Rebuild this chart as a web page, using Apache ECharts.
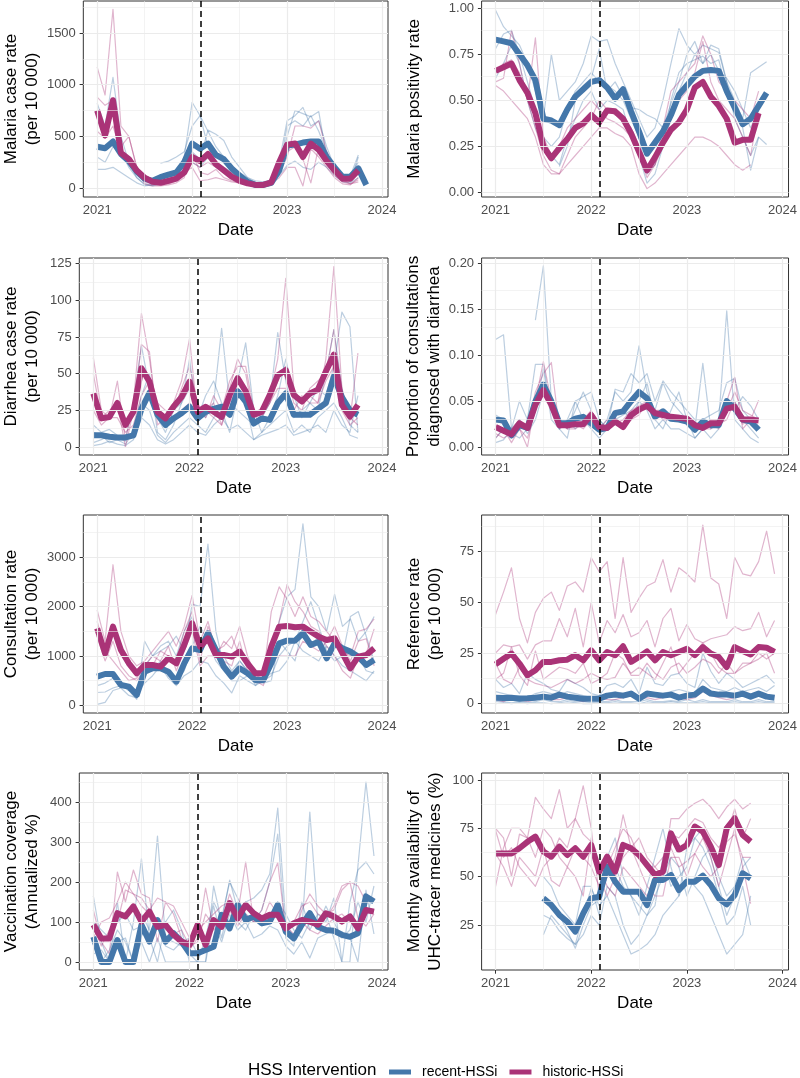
<!DOCTYPE html>
<html><head><meta charset="utf-8">
<script src="https://cdn.jsdelivr.net/npm/echarts@6.0.0/dist/echarts.min.js"></script>
<style>html,body{margin:0;padding:0;background:#fff}#c{width:800px;height:1078px}</style>
</head><body><div id="c"></div>
<script>
const _ = null;
const months = ['2021-01','2021-02','2021-03','2021-04','2021-05','2021-06','2021-07','2021-08','2021-09','2021-10','2021-11','2021-12',
'2022-01','2022-02','2022-03','2022-04','2022-05','2022-06','2022-07','2022-08','2022-09','2022-10','2022-11','2022-12',
'2023-01','2023-02','2023-03','2023-04','2023-05','2023-06','2023-07','2023-08','2023-09','2023-10','2023-11','2023-12'];
const xTickLabels = [2021, 2022, 2023, 2024];
const xMinorTicks = [2021.5, 2022.5, 2023.5];
const interventionX = 2022.09;
const legendTitle = 'HSS Intervention';
const groupNames = ['recent-HSSi', 'historic-HSSi'];

// 1. Malaria case rate
const malariaRecent = [400,385,450,330,260,160,90,70,105,130,150,250,430,380,430,320,280,190,120,60,30,30,50,170,410,420,440,450,450,300,200,110,110,190,30];
const malariaHistoric = [750,510,850,340,280,170,100,60,50,70,90,150,300,260,330,230,170,110,70,45,30,30,55,250,420,430,300,430,370,260,170,90,90,170];
const malariaRecentFac = [
 [820,600,1070,500,250,100,30,20,40,80,150,300,830,700,400,300,250,150,80,40,20,20,40,250,650,700,780,600,650,400,200,100,60,300,_],
 [180,180,200,150,100,50,20,30,60,100,150,200,350,280,560,520,460,300,200,100,50,40,80,200,500,750,720,690,740,300,150,80,120,320,_],
 [300,250,400,350,200,100,40,30,40,60,100,150,250,200,300,250,200,150,100,60,40,30,60,120,220,260,200,180,250,200,120,60,50,100,_],
 [_,_,_,_,_,_,_,_,240,260,300,350,600,700,550,400,300,200,150,100,70,60,80,150,600,650,600,700,550,350,200,110,130,250,_]];
const malariaHistoricFac = [
 [1170,900,1730,600,500,200,80,60,40,40,70,120,250,200,250,200,150,100,80,60,40,40,60,150,300,600,600,580,650,350,200,80,40,80],
 [880,800,850,400,500,200,40,20,20,30,50,100,350,150,130,180,100,70,50,30,20,20,40,200,350,400,280,50,400,250,120,60,40,60],
 [550,480,600,350,300,150,60,40,60,80,100,150,200,70,80,100,80,60,50,40,30,30,40,100,200,200,20,380,300,200,100,40,30,100]];

// 2. Malaria positivity rate
const positivityRecent = [0.83,0.82,0.81,0.75,0.69,0.61,0.40,0.39,0.365,0.45,0.52,0.56,0.60,0.61,0.57,0.51,0.56,0.44,0.33,0.21,0.27,0.33,0.42,0.53,0.58,0.63,0.66,0.665,0.66,0.55,0.46,0.37,0.40,0.47,0.54];
const positivityHistoric = [0.66,0.68,0.70,0.61,0.54,0.43,0.25,0.185,0.24,0.29,0.35,0.375,0.42,0.38,0.445,0.44,0.40,0.32,0.22,0.12,0.19,0.27,0.34,0.38,0.45,0.57,0.60,0.52,0.47,0.40,0.27,0.285,0.285,0.43];
const positivityRecentFac = [
 [0.99,0.90,0.85,0.80,0.70,0.55,0.40,0.75,0.50,0.55,0.60,0.70,0.85,0.82,0.83,0.70,0.60,0.50,0.40,0.30,0.35,0.50,0.70,0.89,0.80,0.75,0.70,0.80,0.78,0.60,0.50,0.40,0.65,0.68,0.71],
 [0.78,0.86,0.88,0.75,0.60,0.45,0.30,0.25,0.30,0.45,0.55,0.60,0.65,0.60,0.58,0.55,0.50,0.40,0.30,0.10,0.15,0.30,0.45,0.55,0.65,0.75,0.80,0.78,0.76,0.60,0.40,0.30,0.20,0.30,_],
 [0.62,0.70,0.80,0.70,0.50,0.35,0.25,0.20,0.15,0.30,0.40,0.50,0.55,0.45,0.50,0.48,0.45,0.30,0.20,0.05,0.10,0.25,0.50,0.65,0.70,0.72,0.74,0.70,0.72,0.55,0.45,0.35,0.12,0.30,0.26],
 [_,_,_,_,_,_,_,_,0.14,0.25,0.50,0.58,0.62,0.78,0.55,0.60,0.52,0.46,0.45,0.42,0.40,0.35,0.48,0.60,0.75,0.82,0.70,0.75,0.66,0.62,0.55,0.45,0.35,0.45,_]];
const positivityHistoricFac = [
 [0.60,0.62,0.88,0.70,0.50,0.84,0.30,0.20,0.25,0.35,0.40,0.45,0.50,0.45,0.40,0.38,0.35,0.30,0.20,0.08,0.15,0.35,0.55,0.60,0.65,0.70,0.85,0.75,0.60,0.55,0.50,0.45,0.40,0.55],
 [0.58,0.55,0.50,0.45,0.40,0.30,0.15,0.10,0.10,0.15,0.20,0.25,0.30,0.35,0.35,0.32,0.30,0.25,0.10,0.02,0.05,0.10,0.15,0.20,0.25,0.30,0.30,0.28,0.25,0.20,0.15,0.12,0.15,_],
 [0.65,0.70,0.72,0.65,0.50,0.35,0.20,0.12,0.10,0.20,0.30,0.35,0.40,0.50,0.45,0.42,0.40,0.35,0.25,0.10,0.15,0.25,0.40,0.50,0.55,0.65,0.82,0.60,0.50,0.45,0.40,0.30,0.20,0.45]];

// 3. Diarrhea case rate
const diarrheaRecent = [8,8,7,6.5,6.5,8,26,37,22,15,19.5,23,27.5,19.5,24,26,27.5,22,38,31,16,19.5,18.5,30,36.5,22,22,22,26,30,48,34,25,22];
const diarrheaHistoric = [36.5,19.5,20.5,30,15,24,53.7,44.6,24,19.5,27.5,34,44.6,24,27.5,24,20.5,35.5,47,38,22,24,35.5,49,52.5,35.5,31,36.5,39,51.5,63,28.7,20.7,28.7];
const diarrheaRecentFac = [
 [15,10,12,8,5,30,69,40,20,10,25,30,40,25,20,30,81,30,25,20,15,20,30,78,45,20,25,30,40,35,55,92,82,10],
 [3,5,8,6,4,10,35,50,10,5,15,30,60,20,35,45,30,25,45,71,25,10,20,35,60,35,20,30,25,50,80,40,15,10],
 [10,8,3,5,2,10,30,25,8,3,10,15,20,15,10,20,25,10,35,30,5,10,15,20,25,10,15,10,20,25,30,20,8,6],
 [1,2,4,2,1,5,20,15,5,2,5,10,15,10,8,15,20,12,15,10,5,8,10,12,15,8,10,12,15,10,25,15,10,35]];
const diarrheaHistoricFac = [
 [61,25,20,45,5,30,91,60,20,18,30,45,74,20,25,30,15,40,60,50,20,25,35,60,115,40,30,35,30,60,123,40,20,15],
 [50,20,25,30,0,25,70,65,15,20,25,40,55,30,20,35,25,45,55,55,25,20,30,45,55,30,25,40,45,50,80,35,18,64],
 [25,15,20,20,10,15,35,45,30,25,20,25,30,20,25,20,15,30,40,35,20,22,30,40,40,25,35,30,30,45,55,25,15,20]];

// 4. Proportion of consultations diagnosed with diarrhea
const propRecent = [0.030,0.029,0.013,0.024,0.021,0.050,0.068,0.050,0.026,0.026,0.031,0.033,0.026,0.019,0.021,0.037,0.039,0.050,0.060,0.053,0.033,0.039,0.031,0.030,0.028,0.019,0.028,0.024,0.024,0.050,0.042,0.030,0.028,0.019];
const propHistoric = [0.022,0.018,0.014,0.026,0.021,0.046,0.062,0.046,0.024,0.024,0.025,0.025,0.035,0.022,0.021,0.028,0.022,0.035,0.041,0.045,0.037,0.035,0.033,0.032,0.031,0.024,0.021,0.026,0.026,0.042,0.044,0.030,0.030,0.029];
const propRecentFac = [
 [0.117,0.122,0.02,0.03,_,0.138,0.197,0.05,0.03,0.02,0.04,0.06,0.04,0.02,0.03,0.06,0.05,0.06,0.11,0.06,0.04,0.07,0.05,0.04,0.03,0.02,0.091,0.02,0.03,0.148,0.03,0.02,0.01,0.005],
 [0.005,0.008,0.02,0.05,0.03,0.09,0.09,0.04,0.02,0.01,0.05,0.055,0.06,0.03,0.02,0.063,0.06,0.08,0.07,0.08,0.05,0.072,0.06,0.05,0.04,0.03,0.03,0.035,0.04,0.07,0.075,0.04,0.03,0.02],
 [0.035,0.03,0.015,0.01,0.02,0.04,0.085,0.03,0.02,0.03,0.02,0.03,0.02,0.01,0.02,0.04,0.04,0.03,0.05,0.07,0.03,0.02,0.04,0.06,0.03,0.01,0.02,0.01,0.02,0.04,0.05,0.03,0.02,0.01],
 [0.01,0.02,0.01,0.03,0.015,0.03,0.06,0.045,0.02,0.03,0.05,0.03,0.025,0.03,0.02,0.03,0.035,0.04,0.05,0.04,0.02,0.03,0.02,0.02,0.015,0.01,0.02,0.025,0.03,0.05,0.04,0.055,0.045,0.03]];
const propHistoricFac = [
 [0.01,0.02,0.005,0.02,0.0,0.05,0.093,0.05,0.03,0.02,0.03,0.03,0.04,0.02,0.025,0.03,0.02,0.03,0.035,0.05,0.04,0.03,0.03,0.03,0.03,0.02,0.02,0.03,0.03,0.05,0.076,0.02,0.03,0.051],
 [0.03,0.025,0.02,0.03,0.02,0.06,0.08,0.092,0.02,0.025,0.025,0.02,0.03,0.025,0.02,0.025,0.03,0.04,0.045,0.05,0.04,0.04,0.035,0.035,0.03,0.02,0.02,0.025,0.02,0.04,0.06,0.04,0.035,0.03],
 [0.015,0.01,0.015,0.02,0.01,0.04,0.07,0.04,0.025,0.02,0.02,0.025,0.035,0.02,0.03,0.025,0.025,0.03,0.04,0.045,0.03,0.035,0.03,0.03,0.025,0.02,0.02,0.02,0.025,0.03,0.05,0.025,0.03,0.03]];

// 5. Consultation rate
const consultRecent = [581,635,635,412,378,210,682,750,750,682,480,851,1155,1122,1460,1122,784,581,750,649,514,514,851,1257,1311,1311,1460,1223,1290,953,1257,1155,1088,986,818,919];
const consultHistoric = [1561,1054,1595,1122,851,649,818,818,784,953,851,1223,1662,1189,1358,1020,1020,986,1088,851,649,649,1189,1595,1608,1581,1595,1493,1392,1324,1358,1054,750,986,1020,1155];
const consultRecentFac = [
 [20,60,300,350,200,150,1300,1000,1100,1200,1400,1100,2050,2000,3270,1500,800,600,900,700,400,600,900,1700,2200,2350,3680,2200,2000,1500,2250,1600,1750,1300,1500,1800],
 [260,270,350,400,300,120,650,700,900,600,500,700,1200,1600,1300,900,700,500,500,600,450,450,500,1300,1100,900,1600,1200,1400,1000,1300,1100,1050,1000,700,650],
 [400,450,550,450,300,250,450,600,800,550,400,600,700,900,850,600,450,250,600,500,400,500,600,1000,1200,1300,1100,1000,900,1200,1000,800,700,600,500,700],
 [_,_,_,_,_,_,800,1000,1200,1300,1000,1500,1800,1200,1400,1200,1000,700,900,700,600,550,650,700,900,1300,1700,2100,1600,1100,900,1000,1800,1900,1400,900]];
const consultHistoricFac = [
 [1930,1300,2850,1500,1000,800,900,1100,1300,1500,1200,1600,2230,1300,1700,1100,1200,1400,1000,900,700,600,1900,2400,2150,1800,2200,1800,1700,1500,1300,1100,1000,1500,1550,1750],
 [1400,900,1300,800,600,500,700,800,1100,1000,900,1500,1900,900,1600,1200,900,800,1300,700,500,400,1000,1700,2450,2100,1900,1600,1500,1200,1000,700,550,1000,1050,1550],
 [1700,1100,900,700,500,550,800,1000,900,1200,700,1100,1500,800,1000,1000,1300,1150,1600,1000,600,550,900,1000,1000,1000,1300,1200,1100,1300,1600,1200,900,1300,1350,800]];

// 6. Reference rate
const referenceRecent = [3,2.8,3,2.5,2.7,3,3.5,3,4.5,3.5,3,2.5,2.5,2.5,4,4.5,4,5,2.5,5,4.5,4,4.5,3,4,4.5,7.5,5,4.5,4.5,4,5,3.5,5,3.5,3];
const referenceHistoric = [19.4,22.2,24.7,19.8,14,16.5,20.6,20.6,21.4,21.7,23.9,21.4,26.3,21.4,25.5,23.9,28.3,20.6,23,25.8,21.4,25.5,23.9,25.5,27.1,23.9,27.9,24.7,23,18.1,27.9,26,24.3,27.9,27.6,25.5];
const referenceRecentFac = [
 [12,8,10,5,15,12,10,7,6,12,10,8,5,4,9,10,8,12,5,18,10,9,14,15,10,8,25,16,10,15,12,8,10,12,14,10],
 [6,5,4,4,3,5,6,5,4,6,5,4,3,3,5,6,5,4,3,6,5,5,6,7,6,5,12,8,7,6,8,6,7,8,6,9],
 [1,1,0.5,1,0.5,1,2,1,1,2,1,1,0.5,1,1,2,1,1,1,2,1,1,1.5,1,2,1,2,1,1,1,2,1,1,2,1,1],
 [0,0.5,0,0.5,0,0.5,0.5,0,0.5,1,0.5,0,0,0.5,0.5,1,0.5,0.5,0,1,0.5,0.5,1,0.5,0.5,0.5,1,0.5,0.5,0.5,1,0.5,0.5,1,0.5,0.5]];
const referenceHistoricFac = [
 [44,55,67,42,30,45,52,55,46,58,60,55,72,65,70,42,72,45,52,58,60,71,55,67,64,60,88,62,59,42,72,64,63,70,85,64],
 [25,29,28,29,22,29,31,31,42,33,47,28,50,30,41,35,44,33,35,41,28,42,47,31,39,32,30,32,33,34,38,36,37,45,33,41],
 [20,12,10,18,12,10,9,8,10,12,10,12,15,13,12,13,20,15,18,15,12,20,28,15,20,25,30,25,18,15,15,20,20,22,25,15],
 [12,15,28,14,9,26,12,15,18,17,15,20,10,12,15,25,22,14,14,20,15,12,18,20,15,18,22,20,15,20,15,18,20,25,22,25],
 [2,1,3,2,1,2,3,2,2,3,2,1,2,3,2,2,3,4,2,3,2,3,4,3,2,3,6,4,3,2,3,4,3,4,3,4]];

// 7. Vaccination coverage
const vaccRecent = [63,0,0,55,0,0,93,51,105,51,72,51,22,22,30,38,118,84,143,105,114,97,101,143,76,59,93,122,88,80,78,68,63,72,164,151];
const vaccHistoric = [93,59,59,122,114,139,101,126,88,93,68,51,43,93,43,105,88,147,109,143,122,109,118,118,84,97,105,101,93,122,114,101,114,84,130,126];
const vaccRecentFac = [
 [165,50,0,150,0,100,258,60,0,100,130,80,0,0,0,190,100,205,130,150,160,180,220,385,100,60,80,375,100,120,60,0,0,240,450,265],
 [40,0,30,80,50,0,120,80,315,60,50,40,20,0,60,150,110,200,160,120,100,130,200,320,60,40,150,80,120,100,160,0,150,230,250,220],
 [20,30,0,50,60,0,50,0,60,0,0,0,0,0,0,100,50,120,80,100,60,70,90,80,40,20,50,10,60,70,80,70,60,0,180,70],
 [100,80,60,100,120,80,90,70,100,40,30,50,60,20,30,140,60,150,100,80,120,90,110,150,120,80,60,100,90,140,100,60,80,150,100,190]];
const vaccHistoricFac = [
 [130,50,20,225,150,230,170,160,50,150,120,60,30,60,185,80,100,170,120,250,100,130,200,248,80,60,130,170,140,120,130,180,200,110,90,120],
 [60,100,110,150,200,170,160,130,160,150,140,100,60,80,100,120,140,150,100,140,120,100,150,120,80,100,140,150,120,110,140,190,200,190,150,160],
 [90,40,80,100,180,170,140,120,100,60,70,80,40,50,120,90,110,130,90,120,100,110,100,130,90,70,100,80,70,90,110,120,100,100,120,130]];

// 8. Monthly availability of UHC-tracer medicines
const uhcRecent = [_,_,_,_,_,_,38.8,35.3,30.2,26.7,21.6,31,38.8,39.7,55.2,47.4,42.2,42.2,42.2,35.3,48.3,48.3,50.9,43.1,47.4,47.4,50.5,45.7,38.8,35.7,40.5,51.7,49.1];
const uhcHistoric = [62,62,62,64.7,68,70.7,63,60.3,65.5,61.2,64.7,60.3,66.4,52.6,60.3,52.6,66.4,64.7,61.2,56,50.9,52.6,72.4,63.8,66.4,75.9,73.3,65.5,56,75,80.2,71.6,68.1];
const uhcRecentFac = [
 [_,_,_,_,_,_,50,45,35,30,25,45,45,30,60,70,50,40,30,45,60,75,55,40,65,70,75,60,45,30,40,55,60],
 [_,_,_,_,_,_,30,28,22,18,15,20,30,25,45,40,25,15,20,30,35,60,45,50,55,70,65,55,40,25,30,45,25],
 [_,_,_,_,_,_,20,30,25,20,15,30,44,35,40,30,20,10,12,15,20,30,35,40,50,45,40,30,20,10,15,20,40],
 [_,_,_,_,_,_,40,35,30,22,13,25,35,38,50,55,45,40,35,30,40,50,60,55,40,50,60,65,50,40,45,60,50]];
const uhcHistoricFac = [
 [75,70,50,72,70,91,85,80,95,75,80,97,75,40,50,60,82,65,70,60,55,50,80,80,85,88,90,86,80,86,90,85,88],
 [45,65,75,75,70,60,75,70,60,55,65,60,55,45,55,65,75,70,60,55,55,60,72,70,75,80,78,70,65,72,85,70,80],
 [62,55,45,60,55,50,65,48,45,55,50,40,70,50,40,50,60,65,55,45,40,40,60,60,50,62,70,60,45,60,75,55,36],
 [74,60,65,55,50,45,55,60,70,65,80,72,68,55,45,40,55,50,45,40,48,55,65,55,58,62,55,50,55,68,72,60,60]];

const yTitles = ['Malaria case rate\n(per 10 000)', 'Malaria positivity rate', 'Diarrhea case rate\n(per 10 000)',
  'Proportion of consultations\ndiagnosed with diarrhea', 'Consultation rate\n(per 10 000)', 'Reference rate\n(per 10 000)',
  'Vaccination coverage\n(Annualized %)', 'Monthly availability of\nUHC-tracer medicines (%)'];
const yTickLabels = [[0,500,1000,1500],[0,0.25,0.5,0.75,1],[0,25,50,75,100,125],[0,0.05,0.1,0.15,0.2],
  [0,1000,2000,3000],[0,25,50,75],[0,100,200,300,400],[25,50,75,100]];
const yMinorTicks = [[250,750,1250,1750],[0.125,0.375,0.625,0.875],[12.5,37.5,62.5,87.5,112.5],[0.025,0.075,0.125,0.175],
  [500,1500,2500,3500],[12.5,37.5,62.5,87.5],[50,150,250,350,450],[12.5,37.5,62.5,87.5]];
const yDecimals = [0,2,0,2,0,0,0,0];
const yLimits = [[-87,1810],[-0.0255,1.0397],[-5.45,128.9],[-0.0084,0.2054],[-156,3858],[-4.56,92.99],[-20,472.5],[1.73,103.6]];
const recentData = [malariaRecent, positivityRecent, diarrheaRecent, propRecent, consultRecent, referenceRecent, vaccRecent, uhcRecent];
const historicData = [malariaHistoric, positivityHistoric, diarrheaHistoric, propHistoric, consultHistoric, referenceHistoric, vaccHistoric, uhcHistoric];
const recentFac = [malariaRecentFac, positivityRecentFac, diarrheaRecentFac, propRecentFac, consultRecentFac, referenceRecentFac, vaccRecentFac, uhcRecentFac];
const historicFac = [malariaHistoricFac, positivityHistoricFac, diarrheaHistoricFac, propHistoricFac, consultHistoricFac, referenceHistoricFac, vaccHistoricFac, uhcHistoricFac];

// ---- layout / style ----
const FONT = "'Liberation Sans', Arial, Helvetica, sans-serif";
const BLUE = '#4477AA', MAG = '#AA3377';
const BLUE_T = 'rgba(68,119,170,0.36)', MAG_T = 'rgba(170,51,119,0.36)';
const colLeft = [79.3, 481.6], colWidth = [308.7, 309.1];
const rowTop = [1, 258, 515, 773], rowHeight = [196, 197, 198, 197];
const xMin = 2021 - 0.1458, xMax = 2023 + 11/12 + 0.1458;

const xs = months.map(s => { const [y, m] = s.split('-').map(Number); return y + (m - 1) / 12; });
const pairs = arr => arr.map((v, i) => [xs[i], v]);

const grids = [], xAxes = [], yAxes = [], series = [];
for (let i = 0; i < 8; i++) {
  const col = i % 2, row = Math.floor(i / 2);
  grids.push({left: colLeft[col], top: rowTop[row], width: colWidth[col], height: rowHeight[row],
    show: true, borderColor: '#333333', borderWidth: 1, backgroundColor: 'transparent'});
  xAxes.push({type: 'value', gridIndex: i, min: xMin, max: xMax,
    axisLine: {show: false}, splitLine: {show: false}, minorTick: {show: false},
    axisTick: {show: true, customValues: xTickLabels, length: 3.7, lineStyle: {color: '#333333', width: 1}},
    axisLabel: {customValues: xTickLabels, formatter: v => String(Math.round(v)), margin: 7, fontSize: 13, color: '#4D4D4D', fontFamily: FONT},
    name: 'Date', nameLocation: 'middle', nameGap: 23,
    nameTextStyle: {fontSize: 17, color: '#000', fontFamily: FONT, lineHeight: 20}});
  const dec = yDecimals[i];
  const twoLine = yTitles[i].indexOf('\n') >= 0;
  yAxes.push({type: 'value', gridIndex: i, min: yLimits[i][0], max: yLimits[i][1],
    axisLine: {show: false}, splitLine: {show: false}, minorTick: {show: false},
    axisTick: {show: true, customValues: yTickLabels[i], length: 3.7, lineStyle: {color: '#333333', width: 1}},
    axisLabel: {customValues: yTickLabels[i], formatter: v => v.toFixed(dec), margin: 7.5, fontSize: 13, color: '#4D4D4D', fontFamily: FONT},
    name: yTitles[i], nameLocation: 'middle', nameRotate: 90, nameGap: twoLine ? 36 : 56.5,
    nameTextStyle: {fontSize: 17, color: '#000', fontFamily: FONT, lineHeight: 21}});
  const gl = [];
  const lo = yLimits[i][0], hi = yLimits[i][1];
  xMinorTicks.forEach(v => gl.push({xAxis: v, lineStyle: {color: '#EBEBEB', width: 0.6, type: 'solid'}}));
  yMinorTicks[i].filter(v => v > lo && v < hi).forEach(v => gl.push({yAxis: v, lineStyle: {color: '#EBEBEB', width: 0.6, type: 'solid'}}));
  xTickLabels.forEach(v => gl.push({xAxis: v, lineStyle: {color: '#EBEBEB', width: 1.2, type: 'solid'}}));
  yTickLabels[i].forEach(v => gl.push({yAxis: v, lineStyle: {color: '#EBEBEB', width: 1.2, type: 'solid'}}));
  series.push({type: 'line', xAxisIndex: i, yAxisIndex: i, data: [], z: 1, silent: true,
    markLine: {silent: true, symbol: ['none', 'none'], animation: false, label: {show: false}, emphasis: {disabled: true}, data: gl}});
  const thin = (arr, color, nm) => ({type: 'line', name: nm, xAxisIndex: i, yAxisIndex: i, data: pairs(arr), z: 2,
    showSymbol: false, symbol: 'none', silent: true, connectNulls: false, color: color,
    lineStyle: {color: color, width: 1.2, join: 'round'}});
  recentFac[i].forEach(a => series.push(thin(a, BLUE_T, 'recent facility')));
  historicFac[i].forEach(a => series.push(thin(a, MAG_T, 'historic facility')));
  const thick = (arr, color, nm, z) => ({type: 'line', name: nm, xAxisIndex: i, yAxisIndex: i, data: pairs(arr), z: z,
    showSymbol: false, symbol: 'none', silent: true, connectNulls: false, color: color, itemStyle: {color: color},
    lineStyle: {color: color, width: 6, join: 'round', cap: 'butt'}});
  series.push(thick(recentData[i], BLUE, groupNames[0], 3));
  series.push(thick(historicData[i], MAG, groupNames[1], 4));
  series.push({type: 'line', xAxisIndex: i, yAxisIndex: i, data: [], z: 6, silent: true,
    markLine: {silent: true, symbol: ['none', 'none'], animation: false, label: {show: false}, emphasis: {disabled: true},
      data: [{xAxis: interventionX}], lineStyle: {color: '#000', type: [6, 4], width: 1.5}}});
}

const chart = echarts.init(document.getElementById('c'), null, {renderer: 'canvas'});
chart.setOption({
  animation: false,
  backgroundColor: '#fff',
  textStyle: {fontFamily: FONT},
  title: {text: legendTitle, left: 248, top: 1062, padding: 0,
    textStyle: {fontSize: 17, fontWeight: 'normal', color: '#000', fontFamily: FONT}},
  legend: {left: 389, top: 1065, padding: 0, icon: 'rect', itemWidth: 22, itemHeight: 5, itemGap: 12,
    data: groupNames, selectedMode: false, itemStyle: {borderWidth: 0},
    textStyle: {fontSize: 14, color: '#000', fontFamily: FONT, padding: [0, 0, 0, 6]}},
  grid: grids, xAxis: xAxes, yAxis: yAxes, series: series
});
</script></body></html>
